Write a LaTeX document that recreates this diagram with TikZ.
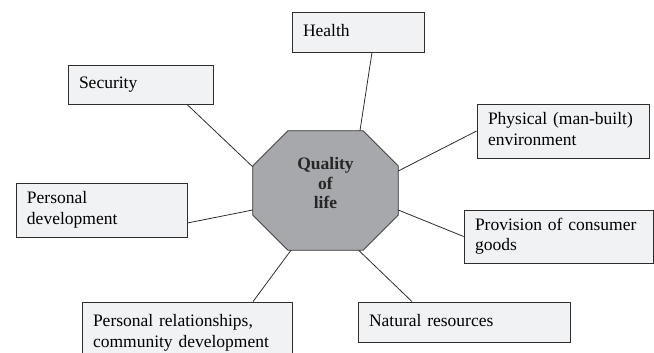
\documentclass[tikz,border=0pt]{standalone}
\usepackage{fontspec}
\setmainfont{Liberation Serif}
\definecolor{boxfill}{RGB}{241,242,244}
\definecolor{hubfill}{RGB}{167,168,172}
\definecolor{edgegray}{RGB}{45,45,45}
\begin{document}
\begin{tikzpicture}[x=1pt,y=-1pt]
\clip (0,0) rectangle (654,353);
\begin{scope}[every node/.style = {draw=edgegray, fill=boxfill, line width=0.8pt,
    align=left, inner xsep=11pt, inner ysep=0pt,
    font=\fontsize{17.5}{20.5}\selectfont,
    execute at begin node=\strut, execute at end node=\strut}]
\node[text width=110pt, minimum height=40pt] (health) at (358, 32) {Health};
\node[text width=123pt, minimum height=39pt] (security) at (140.5, 84.5) {Security};
\node[text width=150pt, minimum height=54pt] (physical) at (563, 131) {Physical (man-built)\\environment};
\node[text width=167pt, minimum height=53pt] (provision) at (558.5, 236.5) {Provision of consumer\\goods};
\node[text width=149pt, minimum height=54pt] (persdev) at (101.5, 210) {Personal\\development};
\node[text width=188pt, minimum height=62pt] (relations) at (187, 333) {Personal relationships,\\community development};
\node[text width=190pt, minimum height=40pt] (natural) at (464, 322) {Natural resources};
\end{scope}
% octagon round the hub
\node[inner sep=0pt, minimum width=145pt, minimum height=119pt] (q) at (325.5, 190.5) {};
\draw[draw=edgegray, fill=hubfill, line width=0.8pt]
  ([xshift=35pt]q.north west) -- ([xshift=-35pt]q.north east)
  -- ([yshift=-35pt]q.north east) -- ([yshift=35pt]q.south east)
  -- ([xshift=-35pt]q.south east) -- ([xshift=35pt]q.south west)
  -- ([yshift=35pt]q.south west) -- ([yshift=-35pt]q.north west) -- cycle;
\node[align=center, font=\fontsize{17.5}{19.5}\selectfont\bfseries, text=black!85]
  (qtext) at ([yshift=7pt]q.center) {Quality\\of\\life};
\begin{scope}[every edge/.style = {draw=edgegray, line width=0.8pt}]
\path ([xshift=14pt]health.south) edge (q.60.6);
\path ([xshift=46.5pt]security.south) edge (q.162);
\path (physical.west) edge (q.15.8);
\path (provision.west) edge (q.-15);
\path ([yshift=-13pt]persdev.east) edge (q.195.8);
\path ([xshift=66pt]relations.north) edge (q.240.4);
\path ([xshift=-52pt]natural.north) edge (q.299.4);
\end{scope}
\end{tikzpicture}
\end{document}
